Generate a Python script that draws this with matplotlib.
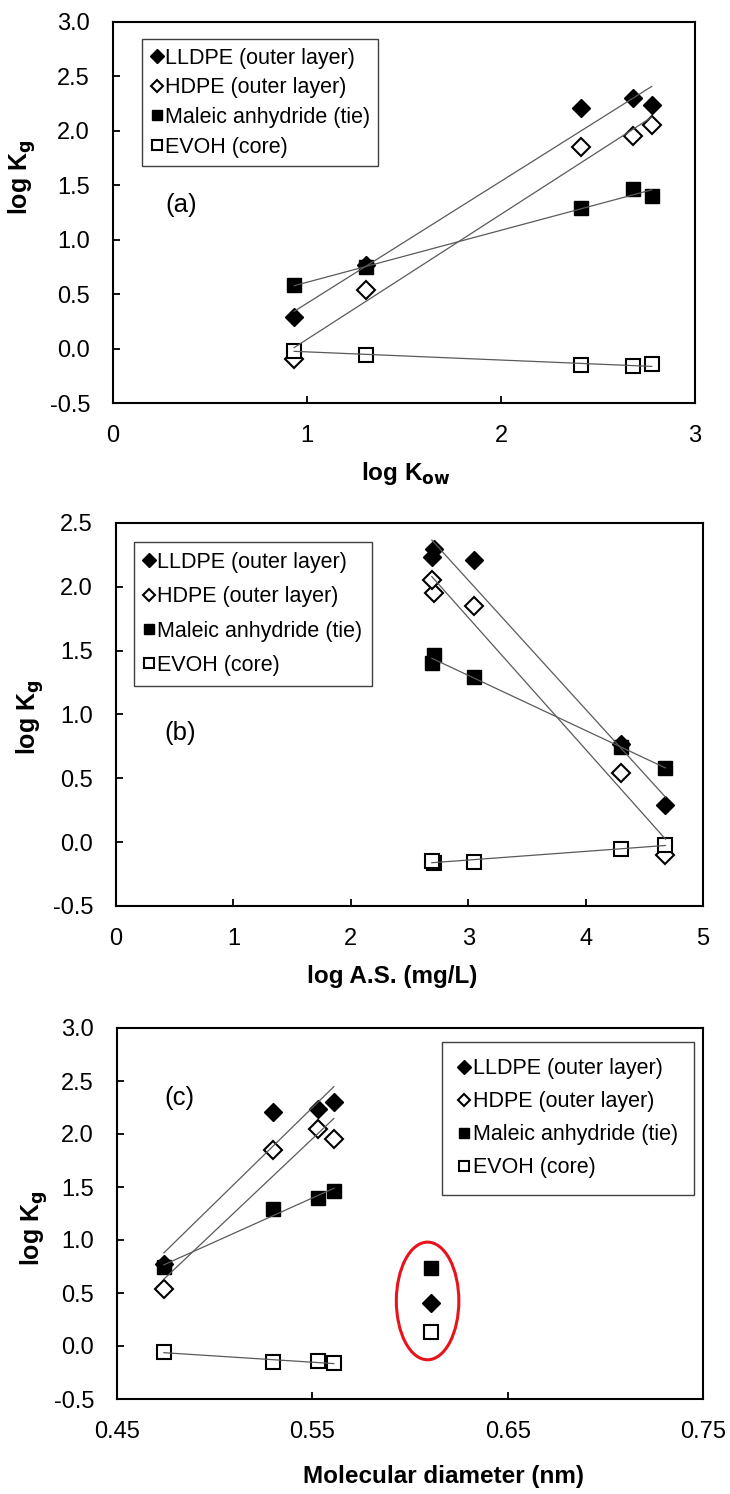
import matplotlib
matplotlib.use("Agg")
import matplotlib.pyplot as plt
from matplotlib.lines import Line2D
from matplotlib.patches import Ellipse
import numpy as np

plt.rcParams["font.family"] = ["Liberation Sans", "DejaVu Sans"]
plt.rcParams["axes.unicode_minus"] = False

# ── Data ─────────────────────────────────────────────────────────────────────
series_names = ["LLDPE (outer layer)", "HDPE (outer layer)",
                "Maleic anhydride (tie)", "EVOH (core)"]

# five compounds, same order in every panel
log_kow = [0.934, 1.305, 2.41, 2.68, 2.777]
log_as = [4.68, 4.30, 3.05, 2.71, 2.69]

lldpe = [0.29, 0.77, 2.21, 2.30, 2.235]
hdpe = [-0.10, 0.54, 1.85, 1.95, 2.05]
maleic = [0.58, 0.745, 1.295, 1.465, 1.40]
evoh = [-0.02, -0.055, -0.155, -0.16, -0.145]

# panel (c): compounds 2..5 only
mol_diam = [0.474, 0.530, 0.561, 0.553]

# panel (c): circled points, left out of the fits
circled_diam = 0.611
circled_maleic = 0.735
circled_lldpe = 0.405
circled_evoh = 0.13

W, H = 730, 1494
fig = plt.figure(figsize=(W / 100, H / 100), dpi=100)
fig.patch.set_facecolor("white")


def px_axes(left, right, top, bottom):
    return fig.add_axes([left / W, 1 - bottom / H,
                         (right - left) / W, (bottom - top) / H])


STYLES = [
    dict(marker="D", mfc="black", mec="black", ms=9, mew=1.0),
    dict(marker="D", mfc="white", mec="black", ms=8.8, mew=1.5),
    dict(marker="s", mfc="black", mec="black", ms=10.5, mew=1.0),
    dict(marker="s", mfc="white", mec="black", ms=10.2, mew=1.5),
]
LINE_COLOR = "#5a5a5a"


def plot_panel(ax, x, ys):
    x = np.asarray(x)
    for y, st in zip(ys, STYLES):
        ax.plot(x, y, ls="none", zorder=3, **st)
    # linear trend lines over the plotted range
    for y in ys:
        k, b = np.polyfit(x, y, 1)
        xx = np.array([x.min(), x.max()])
        ax.plot(xx, k * xx + b, color=LINE_COLOR, lw=0.9, zorder=4)


def style_axes(ax, xlim, ylim, xticks, yticks, xfmt, xlabel,
               ylab_xy, xlab_xy):
    ax.set_xlim(*xlim)
    ax.set_ylim(*ylim)
    ax.set_xticks(xticks)
    ax.set_yticks(yticks)
    ax.set_xticklabels([xfmt.format(v) for v in xticks])
    ax.set_yticklabels([f"{v:.1f}" for v in yticks])
    ax.tick_params(direction="in", length=5, width=1.3, labelsize=17)
    ax.tick_params(axis="x", pad=15.5)
    ax.tick_params(axis="y", pad=16.5)
    for s in ax.spines.values():
        s.set_linewidth(1.5)
        s.set_color("black")
    ax.set_xlabel(xlabel, fontsize=17.5, fontweight="bold", va="center")
    ax.xaxis.set_label_coords(*xlab_xy)
    ax.set_ylabel(r"log K$_\mathbf{g}$", fontsize=18, fontweight="bold",
                  va="center")
    ax.yaxis.set_label_coords(*ylab_xy)


def add_legend(ax, loc, anchor, spacing, pad=0.4, hlen=0.55, tpad=0.1):
    handles = [Line2D([], [], ls="none", **st) for st in STYLES]
    leg = ax.legend(handles, series_names, loc=loc, bbox_to_anchor=anchor,
                    fontsize=15.5, frameon=True, fancybox=False,
                    edgecolor="#404040", framealpha=1, borderaxespad=0,
                    handlelength=hlen, handletextpad=tpad, borderpad=pad,
                    labelspacing=spacing, markerscale=0.75)
    leg.get_frame().set_linewidth(1.0)
    return leg


# ── (a) log Kow ──────────────────────────────────────────────────────────────
ax_a = px_axes(113, 695, 22, 403)
plot_panel(ax_a, log_kow, [lldpe, hdpe, maleic, evoh])
style_axes(ax_a, (0, 3), (-0.5, 3.0), [0, 1, 2, 3],
           np.arange(-0.5, 3.01, 0.5), "{:.0f}",
           r"log K$_\mathbf{ow}$", (-0.156, 0.593), (0.503, -0.184))
add_legend(ax_a, "upper left", (0.05, 0.955), 0.4)
ax_a.text(0.35, 1.32, "(a)", fontsize=18.5, ha="center", va="center")

# ── (b) log A.S. ─────────────────────────────────────────────────────────────
ax_b = px_axes(116, 703, 523, 906)
plot_panel(ax_b, log_as, [lldpe, hdpe, maleic, evoh])
style_axes(ax_b, (0, 5), (-0.5, 2.5), [0, 1, 2, 3, 4, 5],
           np.arange(-0.5, 2.51, 0.5), "{:.0f}",
           "log A.S. (mg/L)", (-0.1465, 0.493), (0.47, -0.185))
add_legend(ax_b, "upper left", (0.03, 0.95), 0.62, pad=0.45)
ax_b.text(0.55, 0.855, "(b)", fontsize=18.5, ha="center", va="center")

# ── (c) molecular diameter ───────────────────────────────────────────────────
ax_c = px_axes(117, 703, 1028, 1399)
plot_panel(ax_c, mol_diam, [lldpe[1:], hdpe[1:], maleic[1:], evoh[1:]])
ax_c.plot(circled_diam, circled_maleic, ls="none", zorder=3, **STYLES[2])
ax_c.plot(circled_diam, circled_lldpe, ls="none", zorder=3, **STYLES[0])
ax_c.plot(circled_diam, circled_evoh, ls="none", zorder=3, **STYLES[3])
ax_c.add_patch(Ellipse((0.609, 0.425), 0.032, 1.11, fill=False,
                       edgecolor="#e8141c", lw=2.2, zorder=5))
style_axes(ax_c, (0.45, 0.75), (-0.5, 3.0), [0.45, 0.55, 0.65, 0.75],
           np.arange(-0.5, 3.01, 0.5), "{:.2f}",
           "Molecular diameter (nm)", (-0.1416, 0.461), (0.558, -0.21))
add_legend(ax_c, "upper right", (0.985, 0.962), 0.56, pad=0.75,
           hlen=0.6, tpad=0.1)
ax_c.text(0.482, 2.34, "(c)", fontsize=18.5, ha="center", va="center")

fig.savefig("out.png", dpi=100, facecolor="white")
